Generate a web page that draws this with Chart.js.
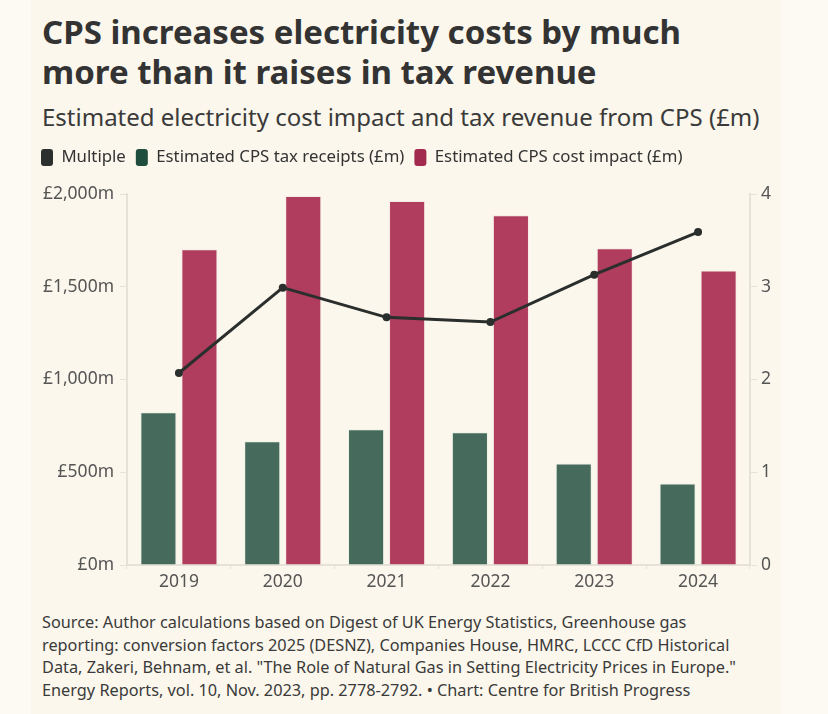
<!DOCTYPE html>
<html>
<head>
<meta charset="utf-8">
<script src="https://cdn.jsdelivr.net/npm/chart.js@4.4.1/dist/chart.umd.min.js"></script>
<style>
  html, body { margin: 0; padding: 0; background: #fdfaf3; }
  .card {
    position: absolute; left: 31px; top: 0; width: 750px; height: 714px;
    background: #fbf7ec; font-family: "Noto Sans", sans-serif; color: #333;
  }
  h1 {
    position: absolute; left: 11px; top: 12px; margin: 0; width: 740px;
    font-size: 33px; line-height: 40px; font-weight: 700; color: #333; white-space: nowrap;
  }
  .sub {
    position: absolute; left: 11px; top: 101px; margin: 0;
    font-size: 24px; line-height: 32px; color: #3a3a3a; white-space: nowrap;
  }
  .chartbox { position: absolute; left: 0; top: 139px; width: 750px; height: 457px; }
  .source {
    position: absolute; left: 11px; top: 611px; margin: 0;
    font-size: 16.3px; line-height: 22.5px; color: #3a3a3a; white-space: nowrap;
  }
</style>
</head>
<body>
<div class="card">
  <h1>CPS increases electricity costs by much<br>more than it raises in tax revenue</h1>
  <p class="sub">Estimated electricity cost impact and tax revenue from CPS (£m)</p>
  <div class="chartbox"><canvas id="cpsChart"></canvas></div>
  <p class="source">Source: Author calculations based on Digest of UK Energy Statistics, Greenhouse gas<br>reporting: conversion factors 2025 (DESNZ), Companies House, HMRC, LCCC CfD Historical<br>Data, Zakeri, Behnam, et al. "The Role of Natural Gas in Setting Electricity Prices in Europe."<br>Energy Reports, vol. 10, Nov. 2023, pp. 2778-2792. • Chart: Centre for British Progress</p>
</div>
<script>
// values
const years = ['2019', '2020', '2021', '2022', '2023', '2024'];
const taxReceipts = [824, 667, 732, 715, 547, 439];
const costImpact = [1702, 1989, 1962, 1886, 1707, 1588];
const multiple = [2.07, 2.99, 2.67, 2.62, 3.13, 3.59];
const leftTicks = [0, 500, 1000, 1500, 2000];
const rightTicks = [0, 1, 2, 3, 4];

const axisColor = '#e6e2d8';
const tickFont = { family: 'Noto Sans', size: 17.5 };

// fixed legend band so the plot starts where the reference does
const legendBand = {
    id: 'legendBand',
    beforeInit(chart) {
        const fit = chart.legend.fit;
        chart.legend.fit = function () {
            fit.bind(chart.legend)();
            this.height = 55;
        };
    }
};

const ctx = document.getElementById('cpsChart').getContext('2d');
new Chart(ctx, {
    data: {
        labels: years,
        datasets: [{
            type: 'line',
            label: 'Multiple',
            data: multiple,
            yAxisID: 'y1',
            borderColor: '#2a2e2c',
            backgroundColor: '#2b302e',
            borderWidth: 3,
            pointRadius: 4,
            pointBackgroundColor: '#2a2e2c',
            pointBorderWidth: 0,
            tension: 0
        }, {
            type: 'bar',
            label: 'Estimated CPS tax receipts (£m)',
            data: taxReceipts,
            yAxisID: 'y',
            backgroundColor: '#466b5c',
            borderColor: 'rgba(230, 240, 228, 0.7)',
            borderWidth: 1,
            categoryPercentage: 0.79,
            barPercentage: 0.88
        }, {
            type: 'bar',
            label: 'Estimated CPS cost impact (£m)',
            data: costImpact,
            yAxisID: 'y',
            backgroundColor: '#b03c5e',
            borderColor: 'rgba(245, 225, 228, 0.7)',
            borderWidth: 1,
            categoryPercentage: 0.79,
            barPercentage: 0.88
        }]
    },
    options: {
        responsive: true,
        maintainAspectRatio: false,
        animation: false,
        scales: {
            x: {
                grid: { display: true, drawOnChartArea: false, color: axisColor, tickLength: 4 },
                border: { color: axisColor, width: 2 },
                ticks: { color: '#555', font: tickFont, padding: 3 }
            },
            y: {
                position: 'left',
                min: 0,
                max: 2000,
                afterBuildTicks: (s) => { s.ticks = leftTicks.map(v => ({ value: v })); },
                afterFit: (s) => { s.width = 96; },
                grid: { display: true, drawOnChartArea: false, color: axisColor, tickLength: 7 },
                border: { color: axisColor, width: 2 },
                ticks: {
                    color: '#555', font: tickFont, padding: 6,
                    callback: (v) => '£' + v.toLocaleString('en-GB') + 'm'
                }
            },
            y1: {
                position: 'right',
                min: 0,
                max: 4,
                afterBuildTicks: (s) => { s.ticks = rightTicks.map(v => ({ value: v })); },
                afterFit: (s) => { s.width = 31; },
                grid: { display: true, drawOnChartArea: false, color: axisColor, tickLength: 7 },
                border: { color: axisColor, width: 2 },
                ticks: { color: '#555', font: tickFont, padding: 4 }
            }
        },
        plugins: {
            legend: {
                position: 'top',
                align: 'start',
                labels: {
                    color: '#333',
                    font: { family: 'Noto Sans', size: 16.8 },
                    boxWidth: 12,
                    boxHeight: 17,
                    useBorderRadius: true,
                    borderRadius: 3,
                    padding: 10,
                    generateLabels(chart) {
                        const fills = ['#2b302e', '#1f4d3d', '#a32a4f'];
                        return chart.data.datasets.map((d, i) => ({
                            text: d.label,
                            fillStyle: fills[i],
                            strokeStyle: fills[i],
                            lineWidth: 0,
                            fontColor: '#333',
                            borderRadius: 3,
                            datasetIndex: i,
                            hidden: !chart.isDatasetVisible(i)
                        }));
                    }
                }
            },
            tooltip: { enabled: false }
        }
    },
    plugins: [legendBand]
});
</script>
</body>
</html>
